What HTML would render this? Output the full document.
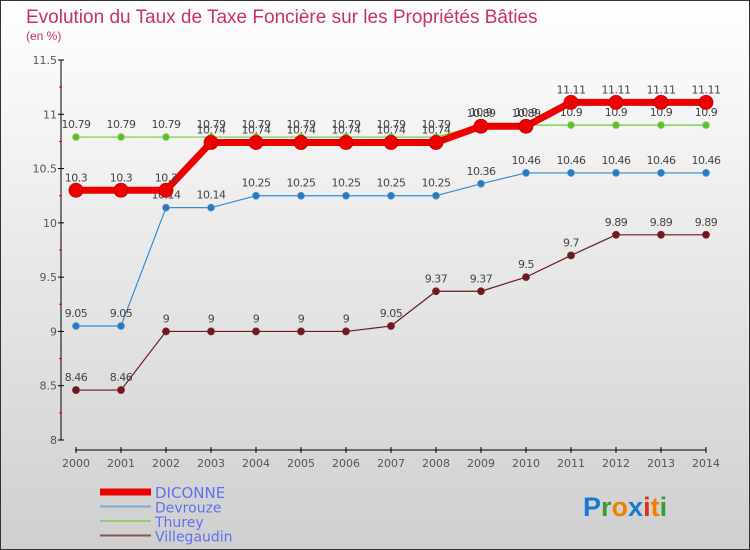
<!DOCTYPE html>
<html><head><meta charset="utf-8"><style>
body{margin:0}
svg{display:block;font-family:"DejaVu Sans","Liberation Sans",sans-serif}
</style></head><body>
<svg id="c" width="750" height="550">
<defs><linearGradient id="bg" x1="0" y1="0" x2="0" y2="1"><stop offset="0" stop-color="#ffffff"/><stop offset="1" stop-color="#cfcfcf"/></linearGradient></defs>
<rect x="0.5" y="0.5" width="749" height="549" fill="url(#bg)" stroke="#333"/>
<text x="26" y="23" font-size="19" fill="#c8306a" font-family="Liberation Sans,sans-serif">Evolution du Taux de Taxe Foncière sur les Propriétés Bâties</text>
<text x="26" y="40" font-size="12" fill="#c8306a" font-family="Liberation Sans,sans-serif">(en %)</text>
<g id="axes"></g><g id="series"></g><g id="legend"></g>
<text x="583" y="516" font-size="27" font-family="Liberation Sans,sans-serif" font-weight="bold"><tspan fill="#1a78d0">P</tspan><tspan fill="#3a9a3a">r</tspan><tspan fill="#f08000">o</tspan><tspan fill="#1a78d0">x</tspan><tspan fill="#e03010">i</tspan><tspan fill="#f08000">t</tspan><tspan fill="#3a9a3a">i</tspan></text>
</svg>
<script>
const years=[2000,2001,2002,2003,2004,2005,2006,2007,2008,2009,2010,2011,2012,2013,2014];
const yTicks=[8,8.5,9,9.5,10,10.5,11,11.5];
const diconne=[10.3,10.3,10.3,10.74,10.74,10.74,10.74,10.74,10.74,10.89,10.89,11.11,11.11,11.11,11.11];
const devrouze=[9.05,9.05,10.14,10.14,10.25,10.25,10.25,10.25,10.25,10.36,10.46,10.46,10.46,10.46,10.46];
const thurey=[10.79,10.79,10.79,10.79,10.79,10.79,10.79,10.79,10.79,10.9,10.9,10.9,10.9,10.9,10.9];
const villegaudin=[8.46,8.46,9,9,9,9,9,9.05,9.37,9.37,9.5,9.7,9.89,9.89,9.89];
const seriesNames=["DICONNE","Devrouze","Thurey","Villegaudin"];
const NS="http://www.w3.org/2000/svg";
const xS=i=>76+i*45;
const yS=v=>440-(v-8)*(380/3.5);
function mk(t,a,p){const e=document.createElementNS(NS,t);for(const k in a)e.setAttribute(k,a[k]);p.appendChild(e);return e;}
const ax=document.getElementById('axes');
let l=mk('line',{x1:61,y1:60,x2:61,y2:440,stroke:'#000'},ax);


l=mk('line',{x1:75,y1:450,x2:706,y2:450,stroke:'#000'},ax);


yTicks.forEach((v,i)=>{
  const y=yS(v);
  mk('line',{x1:58,y1:y,x2:64,y2:y,stroke:'#000'},ax);
  if(i<yTicks.length-1){mk('line',{x1:59,y1:yS(v+0.25),x2:62,y2:yS(v+0.25),stroke:'#e00'},ax);}
  const t=mk('text',{x:57,y:y+4,'text-anchor':'end','font-size':11,fill:'#555'},ax);
  t.textContent=String(v);
  
  
});
years.forEach((yr,i)=>{
  const x=xS(i);
  mk('line',{x1:x,y1:447,x2:x,y2:453,stroke:'#000'},ax);
  const t=mk('text',{x:x,y:467,'text-anchor':'middle','font-size':11,fill:'#555'},ax);
  t.textContent=yr;
  
  
});
const sg=document.getElementById('series');
const defs=[[villegaudin,'#6a1a20','#6a1a20',1.2,3.5,'#7a2a2a'],[devrouze,'#3a8ad0','#2a78c0',1.2,3.5,'#5a9ad0'],[thurey,'#6ad030','#5ac030',1.2,3.5,'#9ad070'],[diconne,'#ee0000','#ee0000',7,7,'#b00']];
const names=['villegaudin','devrouze','thurey','diconne'];
defs.forEach((d,k)=>{
  const [vals,lc,pc,w,r,st]=d;
  const g=mk('g',{},sg);
  
  
  const pl=mk('polyline',{points:vals.map((v,i)=>xS(i)+','+yS(v)).join(' '),fill:'none',stroke:lc,'stroke-width':w,'stroke-linejoin':'round'},g);
  
  
  vals.forEach((v,i)=>{
    const c=mk('circle',{cx:xS(i),cy:yS(v),r:r,fill:pc,stroke:st,'stroke-width':0.8},g);
    
    
    const t=mk('text',{x:xS(i),y:yS(v)-9,'text-anchor':'middle','font-size':11,fill:'#444','letter-spacing':'-0.5'},g);
    t.textContent=String(v);
    
    
  });
});
const lg=document.getElementById('legend');
const lstyle=[['#ee0000',7],['#7aaad0',2],['#90d070',2],['#8a5050',2]];
seriesNames.forEach((n,i)=>{
  const y=492+i*14.5;
  const ln=mk('line',{x1:100,y1:y,x2:151,y2:y,stroke:lstyle[i][0],'stroke-width':lstyle[i][1]},lg);
  
  
  const t=mk('text',{x:155,y:y+6,'font-size':i==0?15:14,fill:'#6070f0'},lg);
  t.textContent=n;
  
  
});
</script>
</body></html>
